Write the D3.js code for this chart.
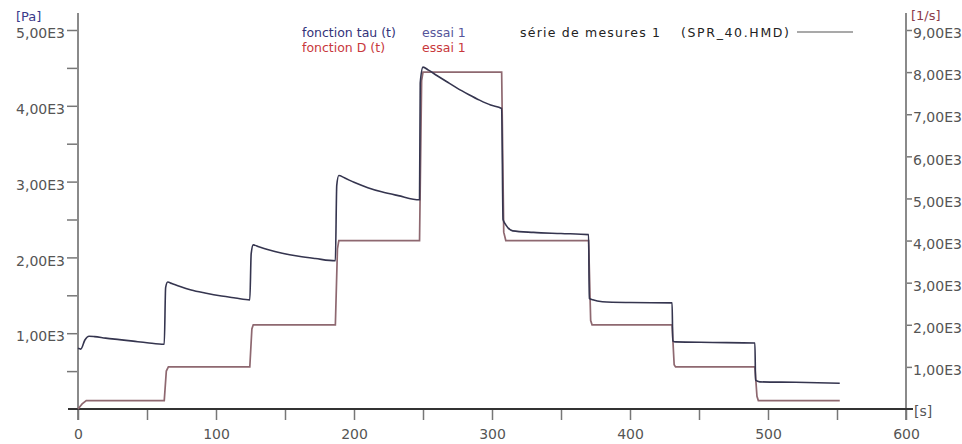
<!DOCTYPE html>
<html>
<head>
<meta charset="utf-8">
<script src="https://cdn.jsdelivr.net/npm/d3@7"></script>
<style>
  body { margin: 0; background: #fff; }
  svg text { font-family: "DejaVu Sans", Verdana, sans-serif; }
</style>
</head>
<body>
<svg class="chart"></svg>
<script>
// tau(t) in Pa
const TAU_T = [0, 2, 5, 8, 12, 20, 30, 40, 50, 62.5,
    63.5, 65, 68, 74, 82, 92, 104, 114, 124.5,
    125.5, 127, 131, 138, 148, 160, 172, 186.5,
    187.5, 189, 193, 200, 210, 220, 232, 247.5,
    248, 250, 254, 260, 267, 275, 283, 291, 299, 307,
    308, 310, 315, 330, 350, 370,
    370.5, 373, 380, 400, 430.5,
    431, 433, 460, 490.5,
    491, 494, 520, 552];
const TAU = [800, 790, 910, 960, 955, 935, 915, 895, 875, 855,
    1600, 1675, 1655, 1615, 1570, 1530, 1490, 1465, 1440,
    2050, 2165, 2140, 2100, 2055, 2015, 1985, 1955,
    2950, 3080, 3050, 2990, 2920, 2865, 2815, 2760,
    4300, 4510, 4470, 4400, 4320, 4230, 4150, 4075, 4010, 3965,
    2500, 2430, 2350, 2330, 2315, 2300,
    1460, 1440, 1415, 1405, 1400,
    900, 885, 878, 870,
    380, 358, 352, 340];

// D(t) in 1/s
const D_T = [0, 3, 6, 62.5, 64, 65.5, 124.5, 126, 127, 186.5, 188, 189,
    247.5, 249, 250, 307, 308.5, 310, 370, 371.5, 372.5,
    430.5, 432, 433, 490.5, 492, 493, 552];
const D = [0, 120, 200, 200, 900, 1000, 1000, 1900, 2000, 2000, 3800, 4000,
    4000, 7800, 8000, 8000, 4200, 4000, 4000, 2100, 2000,
    2000, 1050, 1000, 1000, 300, 200, 200];

const X_TICKS = [0, 100, 200, 300, 400, 500, 600];
const X_MINOR = [50, 150, 250, 350, 450, 550];
const LEFT_TICKS = [1000, 2000, 3000, 4000, 5000];
const LEFT_MINOR = [500, 1500, 2500, 3500, 4500];
const RIGHT_TICKS = [1000, 2000, 3000, 4000, 5000, 6000, 7000, 8000, 9000];

const LEGEND = [
    {name: 'fonction tau (t)', run: 'essai 1', color: '#33337a', runColor: '#55559a'},
    {name: 'fonction D (t)', run: 'essai 1', color: '#c8383c', runColor: '#c8383c'}
];
const SERIES_NAME = 'série de mesures 1';
const SERIES_FILE = '(SPR_40.HMD)';

const WIDTH = 962, HEIGHT = 444;
const margins = {top: 30, right: 56, bottom: 35, left: 78};

const x = d3.scaleLinear().domain([0, 600]).range([margins.left, WIDTH - margins.right]);
const yL = d3.scaleLinear().domain([0, 5000]).range([HEIGHT - margins.bottom, margins.top]);
const yR = d3.scaleLinear().domain([0, 9000]).range([HEIGHT - margins.bottom, margins.top]);

const fmt = d => (d / 1000).toFixed(2).replace('.', ',') + 'E3';

const svg = d3.select('.chart')
    .attr('width', WIDTH)
    .attr('height', HEIGHT);

// left axis
const gl = svg.append('g').attr('transform', 'translate(' + margins.left + ',0)');
gl.call(d3.axisLeft(yL).tickValues(LEFT_TICKS).tickFormat(fmt).tickSize(11).tickPadding(2));
gl.append('g').call(d3.axisLeft(yL).tickValues(LEFT_MINOR).tickFormat('').tickSize(11));
gl.selectAll('.domain').remove();
gl.append('line').attr('x1', 0).attr('x2', 0).attr('y1', 13).attr('y2', 420)
    .attr('stroke', '#8a8a8a').attr('stroke-width', 2);

// right axis
const gr = svg.append('g').attr('transform', 'translate(' + (WIDTH - margins.right) + ',0)');
gr.call(d3.axisRight(yR).tickValues(RIGHT_TICKS).tickFormat(fmt).tickSize(6).tickPadding(1));
gr.selectAll('.domain').remove();
gr.append('line').attr('x1', 0).attr('x2', 0).attr('y1', 13).attr('y2', 420)
    .attr('stroke', '#8a8a8a').attr('stroke-width', 2);

// bottom axis
const gx = svg.append('g').attr('transform', 'translate(0,' + (HEIGHT - margins.bottom) + ')');
gx.call(d3.axisBottom(x).tickValues(X_TICKS).tickFormat(d3.format('d')).tickSize(11).tickPadding(9));
gx.append('g').call(d3.axisBottom(x).tickValues(X_MINOR).tickFormat('').tickSize(11));
gx.selectAll('.domain').remove();
gx.append('line').attr('x1', 68).attr('x2', 913).attr('y1', 0).attr('y2', 0)
    .attr('stroke', '#333').attr('stroke-width', 2);

svg.selectAll('.tick line').attr('stroke', '#777').attr('stroke-width', 1.5);
svg.selectAll('.tick text').attr('fill', '#555').style('font-size', '14px');
gl.selectAll('.tick text').attr('dy', '0.55em');
gr.selectAll('.tick text').attr('dy', '0.55em');

// units
svg.append('text').attr('x', 16).attr('y', 21).text('[Pa]')
    .attr('fill', '#3a3a8a').style('font-size', '13px');
svg.append('text').attr('x', 911).attr('y', 20).text('[1/s]')
    .attr('fill', '#8a3a4a').style('font-size', '13px');
svg.append('text').attr('x', 914).attr('y', 416).text('[s]')
    .attr('fill', '#555').style('font-size', '14px');

// curves
const lineD = d3.line().x((d, i) => x(D_T[i])).y(d => yR(d));
const lineTau = d3.line().x((d, i) => x(TAU_T[i])).y(d => yL(d)).curve(d3.curveMonotoneX);

svg.append('path').datum(D).attr('d', lineD)
    .attr('fill', 'none').attr('stroke', '#8e6870').attr('stroke-width', 1.7);
svg.append('path').datum(TAU).attr('d', lineTau)
    .attr('fill', 'none').attr('stroke', '#35354f').attr('stroke-width', 1.6);

// legend
const lg = svg.append('g').style('font-size', '12.5px');
lg.selectAll('.lname').data(LEGEND).enter().append('text')
    .attr('x', 302).attr('y', (d, i) => 37 + i * 15)
    .attr('fill', d => d.color).text(d => d.name);
lg.selectAll('.lrun').data(LEGEND).enter().append('text')
    .attr('x', 422).attr('y', (d, i) => 37 + i * 15)
    .attr('fill', d => d.runColor).text(d => d.run);
lg.append('text').attr('x', 520).attr('y', 37).attr('fill', '#222')
    .attr('textLength', 140).text(SERIES_NAME);
lg.append('text').attr('x', 681).attr('y', 37).attr('fill', '#222')
    .attr('textLength', 108).text(SERIES_FILE);
lg.append('line').attr('x1', 797).attr('x2', 853).attr('y1', 32).attr('y2', 32)
    .attr('stroke', '#555').attr('stroke-width', 1.2);
</script>
</body>
</html>
